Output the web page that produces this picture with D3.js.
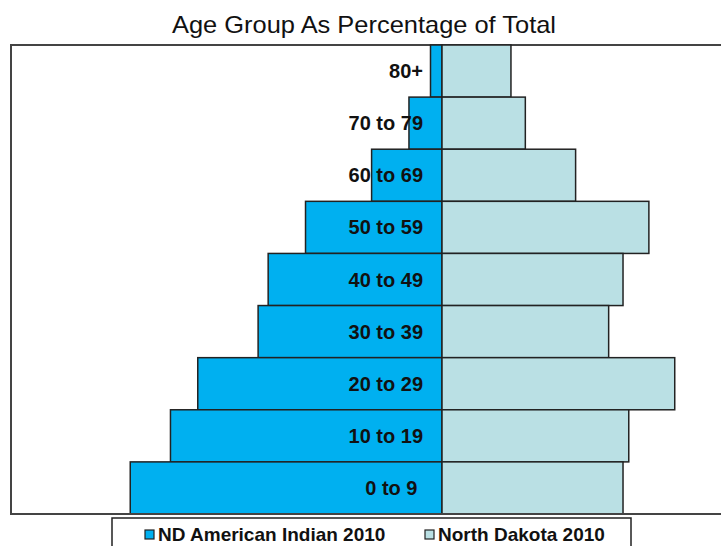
<!DOCTYPE html>
<html>
<head>
<meta charset="utf-8">
<script src="https://cdn.jsdelivr.net/npm/d3@7"></script>
<style>
  body { margin: 0; background: #fff; }
  svg { display: block; font-family: "Liberation Sans", Arial, sans-serif; }
</style>
</head>
<body>
<div id="chart"></div>
<script>
// age groups, top to bottom
const ageGroups = ["80+", "70 to 79", "60 to 69", "50 to 59", "40 to 49",
                   "30 to 39", "20 to 29", "10 to 19", "0 to 9\u00a0"];
const seriesNames = ["ND American Indian 2010", "North Dakota 2010"];
// percent of total population
const indianPct = [0.8, 2.3, 4.9, 9.5, 12.1, 12.8, 17.0, 18.9, 21.7];
const ndPct     = [4.8, 5.8, 9.3, 14.4, 12.6, 11.6, 16.2, 13.0, 12.6];
const colors = ["#00b0f0", "#bae0e4"];

const width = 721, height = 546;
const plot = { left: 11, top: 45, right: 873, bottom: 514 };

const svg = d3.select("#chart").append("svg")
  .attr("width", width)
  .attr("height", height);

let x = d3.scaleLinear().domain([-30, 30]).range([plot.left, plot.right]);
let y = d3.scaleBand().domain(ageGroups).range([plot.top, plot.bottom]).padding(0);

// plot frame
svg.append("rect")
  .attr("x", plot.left).attr("y", plot.top)
  .attr("width", plot.right - plot.left).attr("height", plot.bottom - plot.top)
  .attr("fill", "#fff").attr("stroke", "#444").attr("stroke-width", 2);

// left bars (negative side)
svg.selectAll(".bar-left").data(indianPct).enter().append("rect")
  .attr("class", "bar-left")
  .attr("x", d => x(-d))
  .attr("y", (d, i) => y(ageGroups[i]))
  .attr("width", d => x(0) - x(-d))
  .attr("height", y.bandwidth())
  .attr("fill", colors[0])
  .attr("stroke", "#222").attr("stroke-width", 1.5);

// right bars
svg.selectAll(".bar-right").data(ndPct).enter().append("rect")
  .attr("class", "bar-right")
  .attr("x", x(0))
  .attr("y", (d, i) => y(ageGroups[i]))
  .attr("width", d => x(d) - x(0))
  .attr("height", y.bandwidth())
  .attr("fill", colors[1])
  .attr("stroke", "#222").attr("stroke-width", 1.5);

// category labels
svg.selectAll(".lbl").data(ageGroups).enter().append("text")
  .attr("class", "lbl")
  .attr("x", x(0) - 19)
  .attr("y", d => y(d) + y.bandwidth() / 2 + 7)
  .attr("text-anchor", "end")
  .attr("font-size", "20px")
  .attr("font-weight", "bold")
  .attr("fill", "#111")
  .text(d => d);

// redraw bottom frame line on top of bars
svg.append("line")
  .attr("x1", plot.left).attr("x2", width)
  .attr("y1", plot.bottom).attr("y2", plot.bottom)
  .attr("stroke", "#444").attr("stroke-width", 2);

// title
svg.append("text")
  .attr("x", 364).attr("y", 33)
  .attr("text-anchor", "middle")
  .attr("font-size", "24px")
  .attr("textLength", 384)
  .attr("lengthAdjust", "spacingAndGlyphs")
  .attr("fill", "#111")
  .text("Age Group As Percentage of Total");

// legend
svg.append("rect")
  .attr("x", 112).attr("y", 518)
  .attr("width", 519).attr("height", 40)
  .attr("fill", "#fff").attr("stroke", "#222").attr("stroke-width", 1.5);

const legendX = [145, 425];
seriesNames.forEach((name, i) => {
  svg.append("rect")
    .attr("x", legendX[i]).attr("y", 530)
    .attr("width", 9).attr("height", 9)
    .attr("fill", colors[i])
    .attr("stroke", "#222").attr("stroke-width", 1.2);
  svg.append("text")
    .attr("x", legendX[i] + 13).attr("y", 541)
    .attr("font-size", "19px")
    .attr("font-weight", "bold")
    .attr("fill", "#111")
    .text(name);
});
</script>
</body>
</html>
